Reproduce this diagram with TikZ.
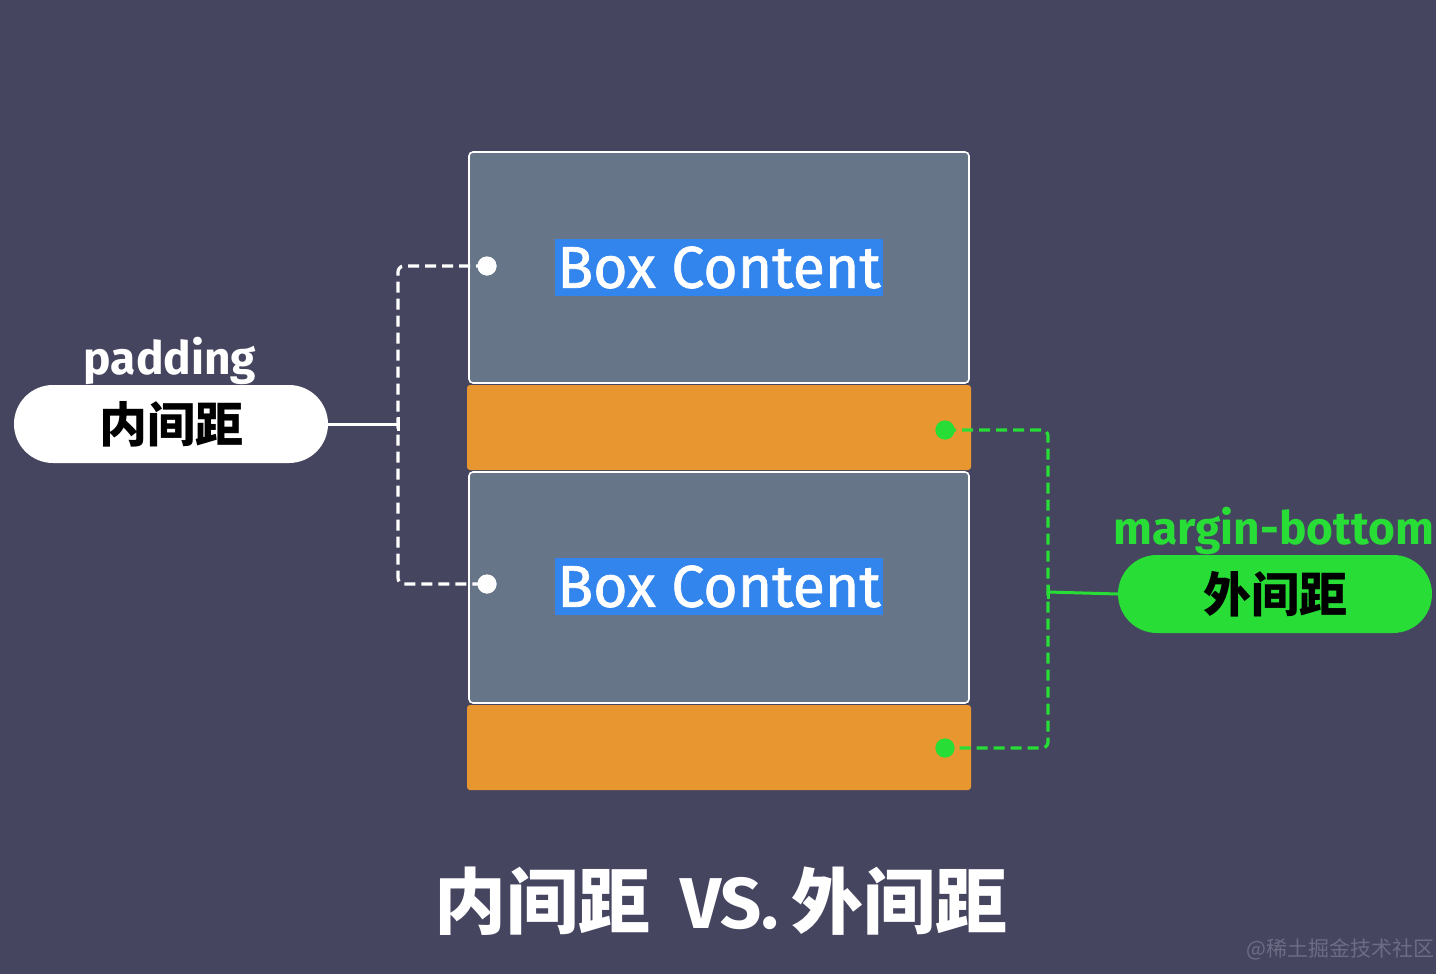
\documentclass[tikz,border=0pt]{standalone}
\usepackage{fontspec}
\setmainfont{Fira Sans}
\newfontfamily\firamed{Fira Sans}[FakeBold=1.2]
\newfontfamily\cjk{Noto Sans CJK SC}
\definecolor{bg}{HTML}{454560}
\definecolor{boxgray}{HTML}{677589}
\definecolor{orng}{HTML}{E8962F}
\definecolor{hlblue}{HTML}{3385EE}
\definecolor{grn}{HTML}{27DD36}
\definecolor{wm}{HTML}{6C6C84}
\tikzset{
  contentbox/.style={draw=white, line width=1.6pt, fill=boxgray, rounded corners=4pt, minimum width=500pt, minimum height=231pt, inner sep=0pt},
  marginbox/.style={fill=orng, rounded corners=3pt, minimum width=504pt, minimum height=85pt, inner sep=0pt},
  hltext/.style={fill=hlblue, text=white, inner xsep=2pt, inner ysep=0pt, minimum height=57pt, font=\firamed\fontsize{59}{59}\selectfont},
  wdot/.style={circle, fill=white, minimum size=19pt, inner sep=0pt},
  gdot/.style={circle, fill=grn, minimum size=19pt, inner sep=0pt},
  wdash/.style={draw=white, line width=3.2pt, dash pattern=on 11pt off 6pt, rounded corners=6pt},
  gdash/.style={draw=grn, line width=3.2pt, dash pattern=on 11pt off 6pt, rounded corners=6pt},
  pill/.style={rounded corners=39pt, minimum width=314pt, minimum height=78pt, inner sep=0pt, font=\cjk\bfseries\fontsize{48}{48}\selectfont, text=black},
}
\begin{document}
\begin{tikzpicture}[x=1pt,y=-1pt]
\fill[bg] (0,0) rectangle (1436,974);
\useasboundingbox (0,0) rectangle (1436,974);
\clip (0,0) rectangle (1436,974);
% boxes
\node[contentbox] (b1) at (719,267.5) {};
\node[marginbox] (m1) at (719,427.5) {};
\node[contentbox] (b2) at (719,587.5) {};
\node[marginbox] (m2) at (719,747.5) {};
\node[hltext] (t1) at (719,267.5) {Box Content};
\node[hltext] (t2) at (719,586.5) {Box Content};
% padding annotation
\node[pill, fill=white] (p1) at (171,424) {内间距};
\node[text=white, font=\bfseries\fontsize{46}{46}\selectfont, anchor=base] (lp) at (170,374) {padding};
\coordinate (pj) at (398,424);
\node[wdot] (d1) at (487,266) {};
\node[wdot] (d2) at (487,584) {};
\draw[wdash] (d1.center) -- (d1 -| pj) -- (d2 -| pj) -- (d2.center);
\draw[white, line width=3pt] (p1.east) -- (pj);
\draw[white, line width=3pt] ([yshift=-7pt]pj) -- ([yshift=7pt]pj);
\node[wdot] at (d1) {};
\node[wdot] at (d2) {};
% margin annotation
\node[pill, fill=grn] (p2) at (1275,594) {外间距};
\node[text=grn, font=\bfseries\fontsize{46}{46}\selectfont, anchor=base west] (lm) at (1110,544) {margin-bottom};
\coordinate (mj) at (1048,592);
\node[gdot] (g1) at (945,430) {};
\node[gdot] (g2) at (945,748) {};
\draw[gdash] (g1.center) -- (g1 -| mj) -- (g2 -| mj) -- (g2.center);
\draw[grn, line width=3pt] (p2.west) -- (mj);
\draw[grn, line width=3pt] ([yshift=-7pt]mj) -- ([yshift=7pt]mj);
\node[gdot] at (g1) {};
\node[gdot] at (g2) {};
% title
\node[text=white, font=\bfseries\fontsize{72}{72}\selectfont] (title) at (721,901) {{\cjk 内间距}\hspace{30pt}VS.\hspace{12pt}{\cjk 外间距}};
\node[text=wm, font=\cjk\fontsize{21}{21}\selectfont, anchor=east] (wmk) at (1438,949) {@稀土掘金技术社区};
\end{tikzpicture}
\end{document}
